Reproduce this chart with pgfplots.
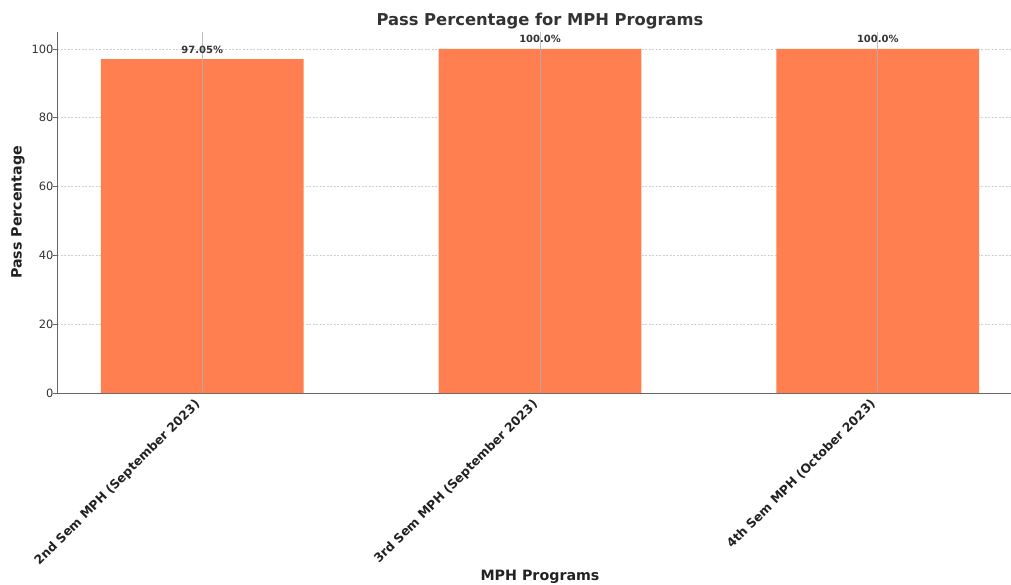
\documentclass[border=0pt]{standalone}
\usepackage{pgfplots}
\pgfplotsset{compat=1.18}
\usepackage{fontspec}
\setmainfont{DejaVu Sans}
\definecolor{barc}{HTML}{FF7F50}
\definecolor{txt}{HTML}{333333}
\definecolor{lab}{HTML}{222222}
\definecolor{spine}{HTML}{666666}
\definecolor{gridc}{HTML}{CFCFCF}
\definecolor{vgrid}{HTML}{B0B0B0}
\begin{document}
\begin{tikzpicture}
\begin{axis}[
  scale only axis,
  width=966bp, height=361.3bp,
  xmin=-0.43, xmax=2.43, ymin=0, ymax=105,
  axis x line*=bottom, axis y line*=left,
  axis line style={draw=spine, line width=1bp},
  xtick={0,1,2},
  xticklabels={2nd Sem MPH (September 2023),3rd Sem MPH (September 2023),4th Sem MPH (October 2023)},
  ytick={0,20,40,60,80,100},
  ymajorgrids,
  grid style={gridc, line width=0.6bp, dash pattern=on 2.2bp off 1.3bp},
  major tick length=3.5bp,
  tick align=inside,
  tick style={spine, line width=0.8bp},
  y tick style={xshift=-3.5bp},
  /pgf/number format/assume math mode=true,
  yticklabel style={font=\fontsize{11.5}{13}\selectfont, text=txt},
  xticklabel style={font=\bfseries\fontsize{12.4}{14}\selectfont, text=lab, inner sep=0pt, xshift=-8.5bp, yshift=-5bp, rotate=45, anchor=north east},
  every axis title shift=0pt,
  title={Pass Percentage for MPH Programs},
  title style={font=\bfseries\fontsize{16.4}{19}\selectfont, text=txt, at={(rel axis cs:0.5,1)}, anchor=base, yshift=5.7bp, inner sep=0pt},
  xlabel={MPH Programs},
  xlabel style={font=\bfseries\fontsize{14.3}{17}\selectfont, text=lab, at={(rel axis cs:0.5,0)}, anchor=center, yshift=-184bp},
  ylabel={Pass Percentage},
  ylabel style={font=\bfseries\fontsize{14.3}{17}\selectfont, text=lab, at={(rel axis cs:0,0.5)}, anchor=center, yshift=39bp},
  nodes near coords,
  point meta=explicit symbolic,
  every node near coord/.append style={font=\bfseries\fontsize{10}{12}\selectfont, text=txt, anchor=south, inner sep=0pt, yshift=5.7bp},
]
\addplot[ybar, bar width=0.6, fill=barc, draw=none] coordinates {
  (0,97.05) [97.05\%]
  (1,100.0) [100.0\%]
  (2,100.0) [100.0\%]
};
\pgfplotsinvokeforeach{0,1,2}{
  \draw[vgrid, line width=0.6bp, opacity=0.8] (axis cs:#1,0) -- (axis cs:#1,105);
}
\coordinate (sw) at (rel axis cs:0,0);
\end{axis}
\pgfresetboundingbox
\path[use as bounding box] ([shift={(-57bp,-192bp)}]sw) rectangle ([shift={(954bp,393bp)}]sw);
\end{tikzpicture}
\end{document}
